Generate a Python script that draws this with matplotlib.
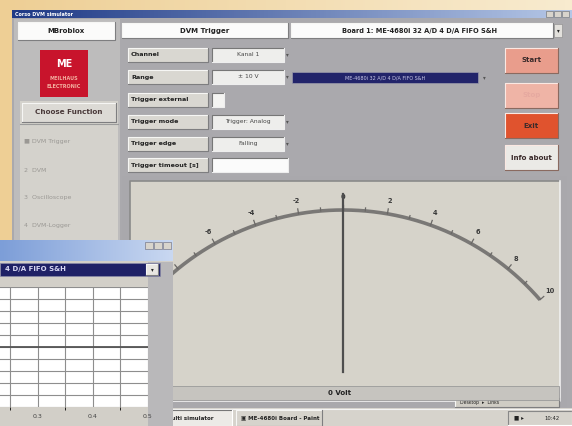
import matplotlib
matplotlib.use("Agg")
import matplotlib.pyplot as plt
import numpy as np
from matplotlib.patches import Rectangle
from matplotlib.colors import LinearSegmentedColormap

# --- data ---
functions = ["DVM Trigger", "DVM", "Oscilloscope", "DVM-Logger"]
param_labels = ["Channel", "Range", "Trigger external", "Trigger mode",
                "Trigger edge", "Trigger timeout [s]"]
param_values = ["Kanal 1", "\u00b1 10 V", "", "Trigger: Analog", "Falling", ""]
buttons = ["Start", "Stop", "Exit", "Info about"]
button_colors = ["#e99d8c", "#efb4a6", "#e0532e", "#ebeae6"]
gauge_ticks = [-10, -8, -6, -4, -2, 0, 2, 4, 6, 8, 10]
reading = 0.0
scope_xticks = [0.3, 0.4, 0.5]
board_name = "Board 1: ME-4680i 32 A/D 4 D/A FIFO S&H"

W, H = 572, 426
fig = plt.figure(figsize=(W / 100, H / 100), dpi=100)
ax = fig.add_axes([0, 0, 1, 1])
ax.set_xlim(0, W)
ax.set_ylim(H, 0)
ax.axis("off")


def hgrad(x0, y0, x1, y1, c0, c1, z):
    cmap = LinearSegmentedColormap.from_list("g", [c0, c1])
    ax.imshow(np.linspace(0, 1, 64)[None, :], cmap=cmap, aspect="auto",
              extent=(x0, x1, y1, y0), zorder=z, interpolation="bilinear")


def bevel(x, y, w, h, fc, light="#f6f6f4", dark="#7e7e80", lw=0.8, z=2):
    ax.add_patch(Rectangle((x, y), w, h, fc=fc, ec="none", zorder=z))
    ax.plot([x, x, x + w], [y + h, y, y], color=light, lw=lw, zorder=z + 0.1)
    ax.plot([x, x + w, x + w], [y + h, y + h, y], color=dark, lw=lw, zorder=z + 0.1)


def label(x, y, s, size=5, color="#222222", ha="left", weight="bold", z=5):
    ax.text(x, y, s, fontsize=size, color=color, ha=ha, va="center",
            fontweight=weight, zorder=z)


# desktop background
hgrad(0, 0, W, H, "#eecf95", "#f8ebcf", 0)

# main window frame and title bar
ax.add_patch(Rectangle((12, 10), 560, 400, fc="#aaa9ad", ec="none", zorder=1))
hgrad(12, 10, W, 18, "#1f3a86", "#b4c6e6", 1.5)
label(15, 14, "Corso DVM simulator", size=3.5, color="white")
for i, s in enumerate(["_", "\u25a1", "x"]):
    ax.add_patch(Rectangle((546 + i * 8, 11), 7, 6, fc="#d8d4cc", ec="#666", lw=0.4, zorder=2))

# left panel
ax.add_patch(Rectangle((14, 19), 106, 391, fc="#bdbcbc", ec="none", zorder=1.6))
bevel(18, 22, 97, 18, "#fbfbfa")
label(66, 31, "MBroblox", ha="center")
ax.add_patch(Rectangle((40, 50), 48, 47, fc="#c8142c", ec="none", zorder=2))
label(64, 64, "ME", size=7, color="white", ha="center")
label(64, 78, "MEILHAUS", size=3.5, color="#f3b0a0", ha="center")
label(64, 86, "ELECTRONIC", size=3.5, color="#f3b0a0", ha="center")
ax.add_patch(Rectangle((20, 101), 98, 309, fc="#d4d2cc", ec="none", zorder=1.8))
bevel(22, 103, 94, 19, "#dcdad5")
label(69, 112.5, "Choose Function", size=5.2, color="#4a3a3a", ha="center")
ax.plot([20, 118], [124, 124], color="#9c9c9c", lw=0.8, zorder=2)
for i, f in enumerate(functions):
    y = 142 + i * 28
    label(24, y, ("\u25a0 " if i == 0 else f"{i + 1}  ") + f, size=4.5, color="#9a9894", weight="normal")

# header boxes
bevel(122, 23, 166, 15, "#fbfbfb")
label(205, 30.5, "DVM Trigger", ha="center")
bevel(291, 23, 262, 15, "#fbfbfb")
label(420, 30.5, board_name, ha="center", size=4.8)
ax.add_patch(Rectangle((554, 24), 8, 13, fc="#e2e0dc", ec="#888", lw=0.4, zorder=2))
label(558, 30.5, "\u25be", size=4, ha="center")

# parameter rows
rows_y = [48, 70, 93, 115, 137, 158]
for lab, val, y in zip(param_labels, param_values, rows_y):
    bevel(128, y, 80, 14, "#d9d7d1")
    label(131, y + 7, lab, size=4.6)
    if lab == "Trigger external":
        bevel(212, y, 12, 14, "#f4f4f2", light="#777", dark="#eee")
    elif lab == "Trigger timeout [s]":
        bevel(212, y, 76, 14, "#fbfbfb", light="#777", dark="#eee")
    else:
        bevel(212, y, 72, 14, "#eeeeec", light="#777", dark="#eee")
        label(248, y + 7, val, size=4.3, color="#444", ha="center", weight="normal")
        label(287, y + 7, "\u25be", size=4, ha="center", color="#555")
ax.add_patch(Rectangle((292, 72), 186, 11, fc="#22246a", ec="#99a", lw=0.5, zorder=2))
label(385, 77.5, "ME-4680i 32 A/D 4 D/A FIFO S&H", size=3.5, color="#c8c8e8", ha="center", weight="normal")
label(484, 77.5, "\u25be", size=4, ha="center", color="#555")

# buttons
for j, (b, c) in enumerate(zip(buttons, button_colors)):
    y = [48, 83, 113, 145][j]
    bevel(505, y, 53, 25, c, light="#fbe8e2", dark="#8a6a60")
    label(531.5, y + 12.5, b, size=5, ha="center",
          color="#e6a9a0" if b == "Stop" else "#3a2a2a")

# gauge panel
ax.add_patch(Rectangle((122, 176), 445, 234, fc="#a9a8ac", ec="none", zorder=2))
bevel(130, 181, 430, 220, "#d6d3ca", light="#8a8a8a", dark="#f0f0f0", lw=1.2, z=2.2)
cx, cy, R, deg = 343.0, 471.0, 261.0, 4.9
t = np.radians(np.linspace(gauge_ticks[0], gauge_ticks[-1], 300) * deg)
ax.plot(cx + R * np.sin(t), cy - R * np.cos(t), color="#7a7876", lw=2.6,
        solid_capstyle="butt", zorder=6)
for v in range(gauge_ticks[0], gauge_ticks[-1] + 1):
    a = np.radians(v * deg)
    L = 5 if v in gauge_ticks else 3
    ax.plot([cx + R * np.sin(a), cx + (R + L) * np.sin(a)],
            [cy - R * np.cos(a), cy - (R + L) * np.cos(a)], color="#6a6866", lw=0.9, zorder=6)
for v in gauge_ticks:
    a = np.radians(v * deg)
    label(cx + (R + 13) * np.sin(a), cy - (R + 13) * np.cos(a), str(v), size=4.8,
          color="#3a3a3a", ha="center", z=6)
a = np.radians(reading * deg)
ax.plot([cx + 99 * np.sin(a), cx + 277 * np.sin(a)],
        [cy - 99 * np.cos(a), cy - 277 * np.cos(a)], color="#4e4e4e", lw=1.6, zorder=7)
ax.add_patch(Rectangle((131, 386), 428, 14, fc="#c6c4bf", ec="#9a9a9a", lw=0.6, zorder=6))
label(340, 393, f"{reading:g} Volt", size=5, ha="center", z=7)

# taskbar
ax.add_patch(Rectangle((0, 408), W, 18, fc="#d6d3cc", ec="none", zorder=3))
ax.plot([0, W], [408.5, 408.5], color="#f4f4f4", lw=0.8, zorder=3.1)
bevel(160, 410, 72, 16, "#eceae6", light="#777", dark="#fff", z=3.2)
label(166, 418, "Multi simulator", size=4, z=4)
bevel(236, 410, 86, 16, "#d6d3cc", z=3.2)
label(241, 418, "\u25a3 ME-4680i Board - Paint", size=4, z=4)
bevel(455, 398, 104, 9, "#cfccc4", z=3.2)
label(460, 402.5, "Desktop  \u25b8  Links", size=3.3, z=4, weight="normal")
bevel(508, 411, 64, 14, "#d6d3cc", light="#888", dark="#fff", z=3.2)
label(514, 418, "\u25a0 \u25b8", size=4, z=4)
label(552, 418, "10:42", size=3.8, ha="center", z=4, weight="normal")

# overlapping oscilloscope window (bottom left)
ax.add_patch(Rectangle((0, 240), 173, 186, fc="#d2cfc8", ec="none", zorder=10))
ax.add_patch(Rectangle((148, 262), 25, 164, fc="#b9b8ba", ec="none", zorder=10.2))
hgrad(0, 240, 173, 261, "#7d9ed8", "#c9d8f1", 10.3)
for i in range(3):
    ax.add_patch(Rectangle((145 + i * 9, 242), 8, 7, fc="#d8d4cc", ec="#667", lw=0.4, zorder=10.5))
ax.add_patch(Rectangle((0, 263), 160, 13, fc="#1f2166", ec="#8a8aa8", lw=0.5, zorder=10.5))
label(5, 269.5, "4 D/A FIFO S&H", size=5, color="#d8d8f4", z=11)
bevel(146, 264, 12, 11, "#e8e6e2", z=10.8)
label(152, 269.5, "\u25be", size=4, ha="center", z=11)

sax = fig.add_axes([0, 1 - 407 / H, 148 / W, 120 / H], zorder=20)
sax.set_facecolor("white")
sax.set_xlim(0.231, 0.5)
sax.set_ylim(-1, 1)
sax.set_xticks(scope_xticks)
sax.set_xticks(np.arange(0.25, 0.501, 0.05), minor=True)
sax.set_yticks(np.arange(-1, 1.01, 0.2))
sax.set_yticklabels([])
sax.tick_params(axis="x", labelsize=4.5, length=0, pad=5, labelcolor="#444")
sax.tick_params(axis="y", length=0)
sax.grid(True, which="both", color="#8e8e8e", lw=0.8)
sax.axhline(0, color="#555555", lw=1.3)
for s in sax.spines.values():
    s.set_visible(False)

fig.savefig("out.png", dpi=100)
